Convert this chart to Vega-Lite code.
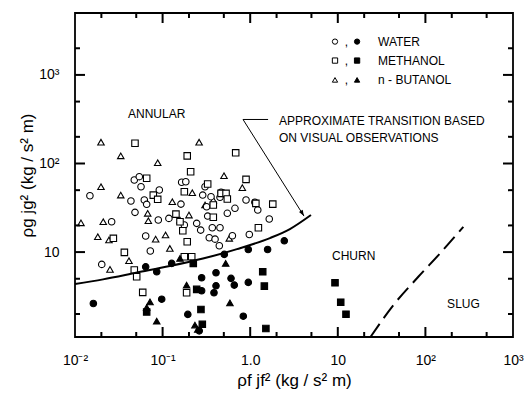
{
  "$schema": "https://vega.github.io/schema/vega-lite/v6.json",
  "width": 438,
  "height": 324,
  "autosize": {"type": "none"},
  "padding": {"left": 75, "top": 13, "right": 14, "bottom": 57},
  "background": "white",
  "config": {
    "view": {"stroke": "black", "strokeWidth": 1.8},
    "axis": {
      "domain": false,
      "ticks": false,
      "tickSize": 0,
      "grid": false,
      "labelFont": "Liberation Sans",
      "labelFontSize": 14,
      "labelColor": "black",
      "titleFont": "Liberation Sans",
      "titleFontSize": 17,
      "titleFontWeight": "normal",
      "titleColor": "black"
    }
  },
  "datasets": {
    "pts": [
      {"x": 0.0117, "y": 21.4, "fluid": "butanol", "regime": "open"},
      {"x": 0.0198, "y": 174, "fluid": "butanol", "regime": "open"},
      {"x": 0.0198, "y": 54.7, "fluid": "butanol", "regime": "open"},
      {"x": 0.0182, "y": 14.9, "fluid": "butanol", "regime": "open"},
      {"x": 0.0210, "y": 22.0, "fluid": "butanol", "regime": "open"},
      {"x": 0.0244, "y": 13.7, "fluid": "butanol", "regime": "open"},
      {"x": 0.0251, "y": 6.38, "fluid": "butanol", "regime": "open"},
      {"x": 0.0333, "y": 122, "fluid": "butanol", "regime": "open"},
      {"x": 0.0333, "y": 44.0, "fluid": "butanol", "regime": "open"},
      {"x": 0.0413, "y": 7.98, "fluid": "butanol", "regime": "open"},
      {"x": 0.0676, "y": 27.4, "fluid": "butanol", "regime": "open"},
      {"x": 0.0687, "y": 22.6, "fluid": "butanol", "regime": "open"},
      {"x": 0.0833, "y": 14.0, "fluid": "butanol", "regime": "open"},
      {"x": 0.0879, "y": 102, "fluid": "butanol", "regime": "open"},
      {"x": 0.108, "y": 15.6, "fluid": "butanol", "regime": "open"},
      {"x": 0.121, "y": 11.0, "fluid": "butanol", "regime": "open"},
      {"x": 0.129, "y": 37.0, "fluid": "butanol", "regime": "open"},
      {"x": 0.158, "y": 23.0, "fluid": "butanol", "regime": "open"},
      {"x": 0.200, "y": 26.2, "fluid": "butanol", "regime": "open"},
      {"x": 0.218, "y": 46.8, "fluid": "butanol", "regime": "open"},
      {"x": 0.261, "y": 174, "fluid": "butanol", "regime": "open"},
      {"x": 0.305, "y": 34.0, "fluid": "butanol", "regime": "open"},
      {"x": 0.379, "y": 38.7, "fluid": "butanol", "regime": "open"},
      {"x": 0.502, "y": 72.8, "fluid": "butanol", "regime": "open"},
      {"x": 0.577, "y": 14.3, "fluid": "butanol", "regime": "open"},
      {"x": 0.813, "y": 53.4, "fluid": "butanol", "regime": "open"},
      {"x": 0.0148, "y": 43.3, "fluid": "water", "regime": "open"},
      {"x": 0.0202, "y": 7.26, "fluid": "water", "regime": "open"},
      {"x": 0.0262, "y": 22.0, "fluid": "water", "regime": "open"},
      {"x": 0.0435, "y": 37.7, "fluid": "water", "regime": "open"},
      {"x": 0.0475, "y": 65.2, "fluid": "water", "regime": "open"},
      {"x": 0.0484, "y": 28.1, "fluid": "water", "regime": "open"},
      {"x": 0.0542, "y": 71.0, "fluid": "water", "regime": "open"},
      {"x": 0.0567, "y": 54.7, "fluid": "water", "regime": "open"},
      {"x": 0.0618, "y": 38.7, "fluid": "water", "regime": "open"},
      {"x": 0.0641, "y": 15.2, "fluid": "water", "regime": "open"},
      {"x": 0.0658, "y": 34.6, "fluid": "water", "regime": "open"},
      {"x": 0.0724, "y": 10.3, "fluid": "water", "regime": "open"},
      {"x": 0.0893, "y": 23.0, "fluid": "water", "regime": "open"},
      {"x": 0.0917, "y": 50.2, "fluid": "water", "regime": "open"},
      {"x": 0.118, "y": 24.0, "fluid": "water", "regime": "open"},
      {"x": 0.162, "y": 34.8, "fluid": "water", "regime": "open"},
      {"x": 0.165, "y": 61.4, "fluid": "water", "regime": "open"},
      {"x": 0.184, "y": 62.2, "fluid": "water", "regime": "open"},
      {"x": 0.177, "y": 20.2, "fluid": "water", "regime": "open"},
      {"x": 0.245, "y": 21.1, "fluid": "water", "regime": "open"},
      {"x": 0.272, "y": 17.7, "fluid": "water", "regime": "open"},
      {"x": 0.287, "y": 44.0, "fluid": "water", "regime": "open"},
      {"x": 0.305, "y": 54.7, "fluid": "water", "regime": "open"},
      {"x": 0.318, "y": 32.5, "fluid": "water", "regime": "open"},
      {"x": 0.327, "y": 25.5, "fluid": "water", "regime": "open"},
      {"x": 0.341, "y": 14.5, "fluid": "water", "regime": "open"},
      {"x": 0.357, "y": 42.2, "fluid": "water", "regime": "open"},
      {"x": 0.369, "y": 18.8, "fluid": "water", "regime": "open"},
      {"x": 0.397, "y": 14.0, "fluid": "water", "regime": "open"},
      {"x": 0.452, "y": 18.8, "fluid": "water", "regime": "open"},
      {"x": 0.444, "y": 11.8, "fluid": "water", "regime": "open"},
      {"x": 0.465, "y": 47.3, "fluid": "water", "regime": "open"},
      {"x": 0.548, "y": 27.4, "fluid": "water", "regime": "open"},
      {"x": 0.626, "y": 15.3, "fluid": "water", "regime": "open"},
      {"x": 0.670, "y": 31.2, "fluid": "water", "regime": "open"},
      {"x": 0.896, "y": 38.7, "fluid": "water", "regime": "open"},
      {"x": 0.977, "y": 15.8, "fluid": "water", "regime": "open"},
      {"x": 1.13, "y": 36.5, "fluid": "water", "regime": "open"},
      {"x": 1.22, "y": 29.9, "fluid": "water", "regime": "open"},
      {"x": 1.65, "y": 23.6, "fluid": "water", "regime": "open"},
      {"x": 0.452, "y": 41.5, "fluid": "water", "regime": "open"},
      {"x": 0.0484, "y": 169, "fluid": "methanol", "regime": "open"},
      {"x": 0.0658, "y": 68.1, "fluid": "methanol", "regime": "open"},
      {"x": 0.0783, "y": 44.0, "fluid": "methanol", "regime": "open"},
      {"x": 0.0879, "y": 39.4, "fluid": "methanol", "regime": "open"},
      {"x": 0.0274, "y": 14.3, "fluid": "methanol", "regime": "open"},
      {"x": 0.0366, "y": 9.92, "fluid": "methanol", "regime": "open"},
      {"x": 0.0475, "y": 6.27, "fluid": "methanol", "regime": "open"},
      {"x": 0.0506, "y": 5.26, "fluid": "methanol", "regime": "open"},
      {"x": 0.0593, "y": 3.51, "fluid": "methanol", "regime": "open"},
      {"x": 0.142, "y": 26.8, "fluid": "methanol", "regime": "open"},
      {"x": 0.158, "y": 22.0, "fluid": "methanol", "regime": "open"},
      {"x": 0.170, "y": 17.4, "fluid": "methanol", "regime": "open"},
      {"x": 0.177, "y": 48.0, "fluid": "methanol", "regime": "open"},
      {"x": 0.191, "y": 122, "fluid": "methanol", "regime": "open"},
      {"x": 0.209, "y": 80.7, "fluid": "methanol", "regime": "open"},
      {"x": 0.191, "y": 13.1, "fluid": "methanol", "regime": "open"},
      {"x": 0.177, "y": 8.85, "fluid": "methanol", "regime": "open"},
      {"x": 0.215, "y": 8.85, "fluid": "methanol", "regime": "open"},
      {"x": 0.188, "y": 3.47, "fluid": "methanol", "regime": "open"},
      {"x": 0.327, "y": 58.6, "fluid": "methanol", "regime": "open"},
      {"x": 0.379, "y": 34.0, "fluid": "methanol", "regime": "open"},
      {"x": 0.379, "y": 24.7, "fluid": "methanol", "regime": "open"},
      {"x": 0.465, "y": 46.0, "fluid": "methanol", "regime": "open"},
      {"x": 0.530, "y": 46.0, "fluid": "methanol", "regime": "open"},
      {"x": 0.548, "y": 39.7, "fluid": "methanol", "regime": "open"},
      {"x": 0.683, "y": 132, "fluid": "methanol", "regime": "open"},
      {"x": 0.896, "y": 66.2, "fluid": "methanol", "regime": "open"},
      {"x": 1.16, "y": 35.5, "fluid": "methanol", "regime": "open"},
      {"x": 1.24, "y": 18.8, "fluid": "methanol", "regime": "open"},
      {"x": 1.81, "y": 34.8, "fluid": "methanol", "regime": "open"},
      {"x": 0.0162, "y": 2.63, "fluid": "water", "regime": "filled"},
      {"x": 0.0641, "y": 6.82, "fluid": "water", "regime": "filled"},
      {"x": 0.0857, "y": 5.99, "fluid": "water", "regime": "filled"},
      {"x": 0.0977, "y": 2.94, "fluid": "water", "regime": "filled"},
      {"x": 0.127, "y": 7.45, "fluid": "water", "regime": "filled"},
      {"x": 0.194, "y": 1.98, "fluid": "water", "regime": "filled"},
      {"x": 0.279, "y": 5.13, "fluid": "water", "regime": "filled"},
      {"x": 0.279, "y": 3.66, "fluid": "water", "regime": "filled"},
      {"x": 0.386, "y": 3.47, "fluid": "water", "regime": "filled"},
      {"x": 0.407, "y": 5.84, "fluid": "water", "regime": "filled"},
      {"x": 0.407, "y": 4.16, "fluid": "water", "regime": "filled"},
      {"x": 0.506, "y": 9.42, "fluid": "water", "regime": "filled"},
      {"x": 0.604, "y": 5.05, "fluid": "water", "regime": "filled"},
      {"x": 0.658, "y": 4.24, "fluid": "water", "regime": "filled"},
      {"x": 0.834, "y": 1.89, "fluid": "water", "regime": "filled"},
      {"x": 0.951, "y": 10.7, "fluid": "water", "regime": "filled"},
      {"x": 0.951, "y": 4.55, "fluid": "water", "regime": "filled"},
      {"x": 1.58, "y": 10.7, "fluid": "water", "regime": "filled"},
      {"x": 2.45, "y": 13.4, "fluid": "water", "regime": "filled"},
      {"x": 0.262, "y": 1.29, "fluid": "water", "regime": "filled"},
      {"x": 0.0658, "y": 2.11, "fluid": "methanol", "regime": "filled"},
      {"x": 0.224, "y": 7.45, "fluid": "methanol", "regime": "filled"},
      {"x": 0.245, "y": 3.79, "fluid": "methanol", "regime": "filled"},
      {"x": 0.274, "y": 2.25, "fluid": "methanol", "regime": "filled"},
      {"x": 0.284, "y": 1.53, "fluid": "methanol", "regime": "filled"},
      {"x": 1.39, "y": 5.99, "fluid": "methanol", "regime": "filled"},
      {"x": 1.45, "y": 4.13, "fluid": "methanol", "regime": "filled"},
      {"x": 1.51, "y": 1.37, "fluid": "methanol", "regime": "filled"},
      {"x": 9.29, "y": 4.50, "fluid": "methanol", "regime": "filled"},
      {"x": 10.8, "y": 2.72, "fluid": "methanol", "regime": "filled"},
      {"x": 12.4, "y": 1.99, "fluid": "methanol", "regime": "filled"},
      {"x": 0.0718, "y": 2.74, "fluid": "butanol", "regime": "filled"},
      {"x": 0.0857, "y": 1.66, "fluid": "butanol", "regime": "filled"},
      {"x": 0.158, "y": 8.49, "fluid": "butanol", "regime": "filled"},
      {"x": 0.188, "y": 4.24, "fluid": "butanol", "regime": "filled"},
      {"x": 0.234, "y": 1.50, "fluid": "butanol", "regime": "filled"},
      {"x": 0.252, "y": 1.34, "fluid": "butanol", "regime": "filled"},
      {"x": 0.525, "y": 7.45, "fluid": "butanol", "regime": "filled"},
      {"x": 0.587, "y": 2.67, "fluid": "butanol", "regime": "filled"},
      {"x": 0.0658, "y": 2.37, "fluid": "butanol", "regime": "filled"}
    ],
    "legendsym": [
      {"x": 9.29, "y": 2377, "fluid": "water", "regime": "open"},
      {"x": 16.6, "y": 2377, "fluid": "water", "regime": "filled"},
      {"x": 9.29, "y": 1452, "fluid": "methanol", "regime": "open"},
      {"x": 16.6, "y": 1452, "fluid": "methanol", "regime": "filled"},
      {"x": 9.29, "y": 879, "fluid": "butanol", "regime": "open"},
      {"x": 16.6, "y": 879, "fluid": "butanol", "regime": "filled"}
    ],
    "tickmarks": [
      {"id": "b1", "x": 0.02, "y": 1.1}, {"id": "b1", "x": 0.02, "y": 1.253},
      {"id": "b2", "x": 0.05, "y": 1.1}, {"id": "b2", "x": 0.05, "y": 1.253},
      {"id": "b3", "x": 0.1, "y": 1.1}, {"id": "b3", "x": 0.1, "y": 1.427},
      {"id": "b4", "x": 0.2, "y": 1.1}, {"id": "b4", "x": 0.2, "y": 1.253},
      {"id": "b5", "x": 0.5, "y": 1.1}, {"id": "b5", "x": 0.5, "y": 1.253},
      {"id": "b6", "x": 1, "y": 1.1}, {"id": "b6", "x": 1, "y": 1.427},
      {"id": "b7", "x": 2, "y": 1.1}, {"id": "b7", "x": 2, "y": 1.253},
      {"id": "b8", "x": 5, "y": 1.1}, {"id": "b8", "x": 5, "y": 1.253},
      {"id": "b9", "x": 10, "y": 1.1}, {"id": "b9", "x": 10, "y": 1.427},
      {"id": "b10", "x": 20, "y": 1.1}, {"id": "b10", "x": 20, "y": 1.253},
      {"id": "b11", "x": 50, "y": 1.1}, {"id": "b11", "x": 50, "y": 1.253},
      {"id": "b12", "x": 100, "y": 1.1}, {"id": "b12", "x": 100, "y": 1.427},
      {"id": "b13", "x": 200, "y": 1.1}, {"id": "b13", "x": 200, "y": 1.253},
      {"id": "b14", "x": 500, "y": 1.1}, {"id": "b14", "x": 500, "y": 1.253},
      {"id": "t1", "x": 0.02, "y": 5000}, {"id": "t1", "x": 0.02, "y": 4390},
      {"id": "t2", "x": 0.05, "y": 5000}, {"id": "t2", "x": 0.05, "y": 4390},
      {"id": "t3", "x": 0.1, "y": 5000}, {"id": "t3", "x": 0.1, "y": 3855},
      {"id": "t4", "x": 0.2, "y": 5000}, {"id": "t4", "x": 0.2, "y": 4390},
      {"id": "t5", "x": 0.5, "y": 5000}, {"id": "t5", "x": 0.5, "y": 4390},
      {"id": "t6", "x": 1, "y": 5000}, {"id": "t6", "x": 1, "y": 3855},
      {"id": "t7", "x": 2, "y": 5000}, {"id": "t7", "x": 2, "y": 4390},
      {"id": "t8", "x": 5, "y": 5000}, {"id": "t8", "x": 5, "y": 4390},
      {"id": "t9", "x": 10, "y": 5000}, {"id": "t9", "x": 10, "y": 3855},
      {"id": "t10", "x": 20, "y": 5000}, {"id": "t10", "x": 20, "y": 4390},
      {"id": "t11", "x": 50, "y": 5000}, {"id": "t11", "x": 50, "y": 4390},
      {"id": "t12", "x": 100, "y": 5000}, {"id": "t12", "x": 100, "y": 3855},
      {"id": "t13", "x": 200, "y": 5000}, {"id": "t13", "x": 200, "y": 4390},
      {"id": "t14", "x": 500, "y": 5000}, {"id": "t14", "x": 500, "y": 4390},
      {"id": "l1", "x": 0.01, "y": 2}, {"id": "l1", "x": 0.0114, "y": 2},
      {"id": "l2", "x": 0.01, "y": 5}, {"id": "l2", "x": 0.0114, "y": 5},
      {"id": "l3", "x": 0.01, "y": 10}, {"id": "l3", "x": 0.013, "y": 10},
      {"id": "l4", "x": 0.01, "y": 20}, {"id": "l4", "x": 0.0114, "y": 20},
      {"id": "l5", "x": 0.01, "y": 50}, {"id": "l5", "x": 0.0114, "y": 50},
      {"id": "l6", "x": 0.01, "y": 100}, {"id": "l6", "x": 0.013, "y": 100},
      {"id": "l7", "x": 0.01, "y": 200}, {"id": "l7", "x": 0.0114, "y": 200},
      {"id": "l8", "x": 0.01, "y": 500}, {"id": "l8", "x": 0.0114, "y": 500},
      {"id": "l9", "x": 0.01, "y": 1000}, {"id": "l9", "x": 0.013, "y": 1000},
      {"id": "l10", "x": 0.01, "y": 2000}, {"id": "l10", "x": 0.0114, "y": 2000},
      {"id": "r1", "x": 877, "y": 2}, {"id": "r1", "x": 1000, "y": 2},
      {"id": "r2", "x": 877, "y": 5}, {"id": "r2", "x": 1000, "y": 5},
      {"id": "r3", "x": 769, "y": 10}, {"id": "r3", "x": 1000, "y": 10},
      {"id": "r4", "x": 877, "y": 20}, {"id": "r4", "x": 1000, "y": 20},
      {"id": "r5", "x": 877, "y": 50}, {"id": "r5", "x": 1000, "y": 50},
      {"id": "r6", "x": 769, "y": 100}, {"id": "r6", "x": 1000, "y": 100},
      {"id": "r7", "x": 877, "y": 200}, {"id": "r7", "x": 1000, "y": 200},
      {"id": "r8", "x": 877, "y": 500}, {"id": "r8", "x": 1000, "y": 500},
      {"id": "r9", "x": 769, "y": 1000}, {"id": "r9", "x": 1000, "y": 1000},
      {"id": "r10", "x": 877, "y": 2000}, {"id": "r10", "x": 1000, "y": 2000}
    ],
    "curve": [
      {"x": 0.01, "y": 4.35},
      {"x": 0.0209, "y": 4.92},
      {"x": 0.0511, "y": 5.87},
      {"x": 0.121, "y": 6.95},
      {"x": 0.289, "y": 8.45},
      {"x": 0.706, "y": 10.8},
      {"x": 1.68, "y": 14.4},
      {"x": 2.84, "y": 18.2},
      {"x": 4.94, "y": 26.2}
    ],
    "slug": [
      {"x": 23.6, "y": 1.1},
      {"x": 43.1, "y": 2.52},
      {"x": 83.0, "y": 5.26},
      {"x": 147, "y": 9.67},
      {"x": 271, "y": 19.3}
    ],
    "arrow": [
      {"x": 1.60, "y": 314, "o": 1},
      {"x": 0.828, "y": 314, "o": 2},
      {"x": 4.11, "y": 25.5, "o": 3}
    ],
    "arrowhead": [
      {"x": 4.11, "y": 25.5}
    ],
    "labels": [
      {"x": 0.0403, "y": 360, "label": "ANNULAR"},
      {"x": 2.13, "y": 305, "label": "APPROXIMATE TRANSITION BASED"},
      {"x": 2.13, "y": 196, "label": "ON VISUAL OBSERVATIONS"},
      {"x": 8.59, "y": 9.02, "label": "CHURN"},
      {"x": 177, "y": 2.58, "label": "SLUG"},
      {"x": 28.8, "y": 2377, "label": "WATER"},
      {"x": 28.8, "y": 1452, "label": "METHANOL"},
      {"x": 28.8, "y": 879, "label": "n - BUTANOL"},
      {"x": 12.0, "y": 2377, "label": ","},
      {"x": 12.0, "y": 1452, "label": ","},
      {"x": 12.0, "y": 879, "label": ","}
    ]
  },
  "layer": [
    {
      "data": {"name": "pts"},
      "mark": {"type": "point", "filled": true, "stroke": "black", "strokeWidth": 1.1, "size": 42, "opacity": 1},
      "encoding": {
        "x": {
          "field": "x", "type": "quantitative",
          "scale": {"type": "log", "domain": [0.01, 1000], "nice": false},
          "axis": {
            "orient": "bottom",
            "values": [0.01, 0.1, 1, 10, 100, 1000],
            "labelPadding": 16,
            "labelExpr": "round(log(datum.value)/LN10)==-2?'10⁻²':round(log(datum.value)/LN10)==-1?'10⁻¹':round(log(datum.value)/LN10)==0?'1.0':round(log(datum.value)/LN10)==1?'10':round(log(datum.value)/LN10)==2?'10²':'10³'",
            "labelFlush": false,
            "labelOverlap": false,
            "title": "ρf jf²  (kg / s² m)",
            "titleY": 43,
            "titleBaseline": "middle"
          }
        },
        "y": {
          "field": "y", "type": "quantitative",
          "scale": {"type": "log", "domain": [1.1, 5000], "nice": false},
          "axis": {
            "orient": "left",
            "values": [10, 100, 1000],
            "labelPadding": 16,
            "labelExpr": "datum.value==10?'10':datum.value==100?'10²':'10³'",
            "labelOverlap": false,
            "title": "ρg jg²  (kg / s² m)",
            "titleX": -48,
            "titleBaseline": "middle"
          }
        },
        "shape": {"field": "fluid", "type": "nominal", "scale": {"domain": ["water", "methanol", "butanol"], "range": ["circle", "square", "triangle-up"]}, "legend": null},
        "fill": {"field": "regime", "type": "nominal", "scale": {"domain": ["open", "filled"], "range": ["white", "black"]}, "legend": null}
      }
    },
    {
      "data": {"name": "tickmarks"},
      "mark": {"type": "line", "color": "black", "strokeWidth": 2},
      "encoding": {
        "x": {"field": "x", "type": "quantitative", "scale": {"type": "log", "domain": [0.01, 1000], "nice": false}, "axis": null},
        "y": {"field": "y", "type": "quantitative", "scale": {"type": "log", "domain": [1.1, 5000], "nice": false}, "axis": null},
        "detail": {"field": "id", "type": "nominal"}
      }
    },
    {
      "data": {"name": "curve"},
      "mark": {"type": "line", "interpolate": "monotone", "color": "black", "strokeWidth": 2},
      "encoding": {
        "x": {"field": "x", "type": "quantitative", "scale": {"type": "log", "domain": [0.01, 1000], "nice": false}, "axis": null},
        "y": {"field": "y", "type": "quantitative", "scale": {"type": "log", "domain": [1.1, 5000], "nice": false}, "axis": null}
      }
    },
    {
      "data": {"name": "slug"},
      "mark": {"type": "line", "interpolate": "monotone", "color": "black", "strokeWidth": 2, "strokeDash": [16, 7]},
      "encoding": {
        "x": {"field": "x", "type": "quantitative", "scale": {"type": "log", "domain": [0.01, 1000], "nice": false}, "axis": null},
        "y": {"field": "y", "type": "quantitative", "scale": {"type": "log", "domain": [1.1, 5000], "nice": false}, "axis": null}
      }
    },
    {
      "data": {"name": "arrow"},
      "mark": {"type": "line", "color": "black", "strokeWidth": 1},
      "encoding": {
        "x": {"field": "x", "type": "quantitative", "scale": {"type": "log", "domain": [0.01, 1000], "nice": false}, "axis": null},
        "y": {"field": "y", "type": "quantitative", "scale": {"type": "log", "domain": [1.1, 5000], "nice": false}, "axis": null},
        "order": {"field": "o", "type": "quantitative"}
      }
    },
    {
      "data": {"name": "arrowhead"},
      "mark": {"type": "point", "filled": true, "color": "black", "shape": "M0,0 L-0.35,-1 L0.35,-1 Z", "angle": -31, "size": 150, "opacity": 1},
      "encoding": {
        "x": {"field": "x", "type": "quantitative", "scale": {"type": "log", "domain": [0.01, 1000], "nice": false}, "axis": null},
        "y": {"field": "y", "type": "quantitative", "scale": {"type": "log", "domain": [1.1, 5000], "nice": false}, "axis": null}
      }
    },
    {
      "data": {"name": "legendsym"},
      "mark": {"type": "point", "filled": true, "stroke": "black", "strokeWidth": 1, "size": 28, "opacity": 1},
      "encoding": {
        "x": {"field": "x", "type": "quantitative", "scale": {"type": "log", "domain": [0.01, 1000], "nice": false}, "axis": null},
        "y": {"field": "y", "type": "quantitative", "scale": {"type": "log", "domain": [1.1, 5000], "nice": false}, "axis": null},
        "shape": {"field": "fluid", "type": "nominal", "legend": null},
        "fill": {"field": "regime", "type": "nominal", "legend": null}
      }
    },
    {
      "data": {"name": "labels"},
      "mark": {"type": "text", "align": "left", "baseline": "middle", "font": "Liberation Sans", "fontSize": 12, "color": "black"},
      "encoding": {
        "x": {"field": "x", "type": "quantitative", "scale": {"type": "log", "domain": [0.01, 1000], "nice": false}, "axis": null},
        "y": {"field": "y", "type": "quantitative", "scale": {"type": "log", "domain": [1.1, 5000], "nice": false}, "axis": null},
        "text": {"field": "label", "type": "nominal"}
      }
    }
  ],
  "resolve": {"axis": {"x": "independent", "y": "independent"}}
}
